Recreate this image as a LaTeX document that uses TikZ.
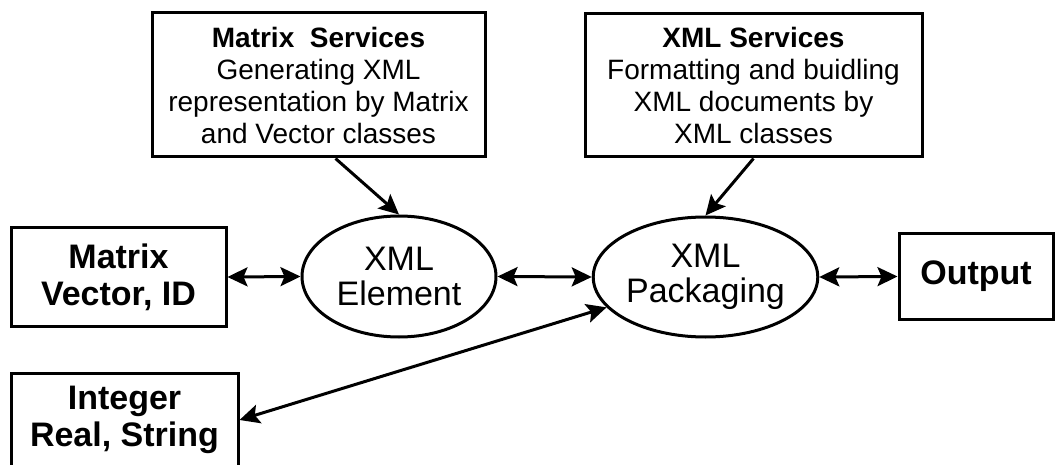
\documentclass[tikz,border=0pt]{standalone}
\usepackage{fontspec}
\setmainfont{Liberation Sans}
\usetikzlibrary{shapes.geometric,arrows.meta}
\tikzset{
  box/.style={draw,line width=3pt,rectangle,inner sep=0pt,align=center},
  oval/.style={draw,line width=3pt,ellipse,inner sep=0pt,align=center,
    font=\fontsize{34}{35}\selectfont},
  small/.style={font=\fontsize{28}{32}\selectfont},
  big/.style={font=\fontsize{34}{37}\selectfont\bfseries},
  tip/.style={Stealth[length=20pt,width=19pt,inset=4pt]},
  conn/.style={line width=3pt,-{Stealth[length=20pt,width=19pt,inset=4pt]}},
  bconn/.style={line width=3pt,{Stealth[length=20pt,width=19pt,inset=4pt]}-{Stealth[length=20pt,width=19pt,inset=4pt]}}
}
\begin{document}
\begin{tikzpicture}[x=1pt,y=-1pt]
\useasboundingbox[fill=white] (0,0) rectangle (1055,465);
\node[box,small,minimum width=333pt,minimum height=144pt] (ms) at (318.5,85)
  {\textbf{Matrix\ \ Services}\\Generating XML\\representation by Matrix\\and Vector classes};
\node[box,small,minimum width=337pt,minimum height=143pt] (xs) at (753.5,85.5)
  {\textbf{XML Services}\\Formatting and buidling\\XML documents by\\XML classes};
\node[box,big,minimum width=215pt,minimum height=98pt] (mv) at (118.5,277)
  {Matrix\\Vector, ID};
\node[box,big,minimum width=227pt,minimum height=94pt] (ir) at (124.5,420)
  {Integer\\Real, String};
\node[box,big,minimum width=154pt,minimum height=85pt] (out) at (976,276.5)
  {Output};
\node[oval,minimum width=194pt,minimum height=121pt] (el) at (399,276.5)
  {XML\\Element};
\node[oval,minimum width=213pt,minimum height=120pt] (pk) at (705.5,277)
  {XML\\Packaging};
\draw[conn] ([xshift=17pt]ms.south) -- (el.north);
\draw[conn] (xs.south) -- (pk.north);
\draw[bconn] (mv.east) -- (el.west);
\draw[bconn] (el.east) -- (pk.west);
\draw[bconn] (pk.east) -- (out.west);
\draw[bconn] (ir.east) -- (pk);
\end{tikzpicture}
\end{document}
